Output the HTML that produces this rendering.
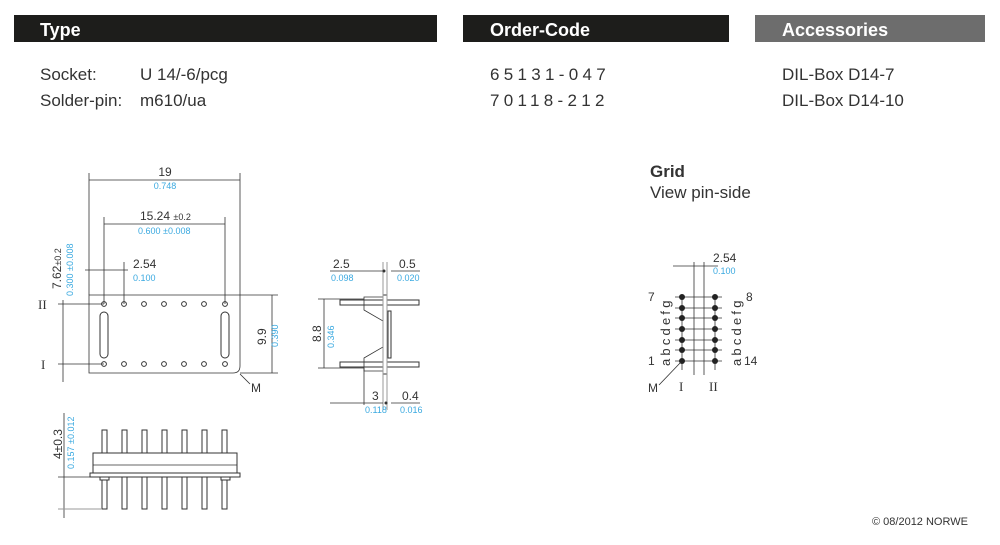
<!DOCTYPE html>
<html><head><meta charset="utf-8"><style>
html,body{margin:0;padding:0;background:#fff;}
svg{display:block;font-family:"Liberation Sans",sans-serif;}
.k{fill:#333;font-size:12px}
.b{fill:#3aa9e0;font-size:9px}
.l{stroke:#333;stroke-width:0.8;fill:none}
.g{stroke:#999;stroke-width:1;fill:none}
.p{stroke:#333;stroke-width:1;fill:#fff}
</style></head><body>
<svg width="1000" height="545" viewBox="0 0 1000 545">
<rect x="14" y="15" width="423" height="27" fill="#1d1d1b"/>
<rect x="463" y="15" width="266" height="27" fill="#1d1d1b"/>
<rect x="755" y="15" width="230" height="27" fill="#6d6d6d"/>
<g fill="#fff" font-weight="bold" font-size="18"><text x="40" y="36">Type</text><text x="490" y="36">Order-Code</text><text x="782" y="36">Accessories</text></g>
<g fill="#333" font-size="17">
<text x="40" y="80">Socket:</text><text x="140" y="80">U 14/-6/pcg</text>
<text x="40" y="106">Solder-pin:</text><text x="140" y="106">m610/ua</text>
<text x="490" y="80" letter-spacing="4.3">65131-047</text>
<text x="490" y="106" letter-spacing="4.3">70118-212</text>
<text x="782" y="80">DIL-Box D14-7</text>
<text x="782" y="106">DIL-Box D14-10</text>
<text x="650" y="177" font-weight="bold">Grid</text>
<text x="650" y="198">View pin-side</text>
</g>

<!-- top view -->
<path class="l" d="M89 295 H240 V366 Q240 373 233 373 H89 Z"/>
<g class="p">
<circle cx="104" cy="304" r="2.4"/><circle cx="124" cy="304" r="2.4"/><circle cx="144" cy="304" r="2.4"/><circle cx="164" cy="304" r="2.4"/><circle cx="184" cy="304" r="2.4"/><circle cx="204" cy="304" r="2.4"/><circle cx="225" cy="304" r="2.4"/>
<circle cx="104" cy="364" r="2.4"/><circle cx="124" cy="364" r="2.4"/><circle cx="144" cy="364" r="2.4"/><circle cx="164" cy="364" r="2.4"/><circle cx="184" cy="364" r="2.4"/><circle cx="204" cy="364" r="2.4"/><circle cx="225" cy="364" r="2.4"/>
<rect x="100" y="312" width="8" height="46" rx="4"/><rect x="221" y="312" width="8" height="46" rx="4"/>
</g>
<path class="l" d="M89 173V295M240 173V295M89 180H240M104 217V304M225 217V304M104 224H225M85 270H128M124 262V304M63 300V382M58 304H104M58 364H104M240 295H278M240 373H278M272 295V373M240 374L250 384"/>
<text class="k" x="165" y="176" text-anchor="middle">19</text>
<text class="b" x="165" y="189" text-anchor="middle">0.748</text>
<text class="k" x="140" y="220">15.24 <tspan font-size="9">±0.2</tspan></text>
<text class="b" x="138" y="234">0.600 ±0.008</text>
<text class="k" x="133" y="268">2.54</text>
<text class="b" x="133" y="281">0.100</text>
<text class="k" transform="translate(61 289) rotate(-90)">7.62<tspan font-size="9">±0.2</tspan></text>
<text class="b" transform="translate(73 296) rotate(-90)">0.300 ±0.008</text>
<text class="k" transform="translate(266 345) rotate(-90)">9.9</text>
<text class="b" transform="translate(278 347) rotate(-90)">0.390</text>
<text fill="#333" font-size="13" x="38" y="309" font-family="Liberation Serif">II</text>
<text fill="#333" font-size="13" x="41" y="369" font-family="Liberation Serif">I</text>
<text fill="#333" font-size="12" x="251" y="392">M</text>

<!-- side view -->
<path class="p" d="M340 300H419V305H340Z"/><path class="p" d="M340 362H419V367H340Z"/>
<path class="l" d="M364 297H383V321L364 310Z"/><path class="l" d="M364 371H383V347L364 358Z"/>
<rect x="383" y="295" width="4" height="79" class="p"/>
<rect x="388" y="311" width="3" height="47" class="p"/>
<path class="g" d="M383 262V410M387 262V410"/>
<path class="l" d="M324 299V368M318 299H364M318 368H364M330 271H383M330 403H383M391 403H420M364 368V405M391 271H420"/>
<circle cx="384" cy="271" r="1.5" fill="#333"/><circle cx="386" cy="403" r="1.5" fill="#333"/>
<text class="k" x="333" y="268">2.5</text><text class="b" x="331" y="281">0.098</text>
<text class="k" x="399" y="268">0.5</text><text class="b" x="397" y="281">0.020</text>
<text class="k" transform="translate(321 342) rotate(-90)">8.8</text>
<text class="b" transform="translate(334 348) rotate(-90)">0.346</text>
<text class="k" x="372" y="400">3</text><text class="b" x="365" y="413">0.118</text>
<text class="k" x="402" y="400">0.4</text><text class="b" x="400" y="413">0.016</text>

<!-- bottom view -->
<g class="p">
<rect x="102" y="430" width="5" height="79"/><rect x="122" y="430" width="5" height="79"/><rect x="142" y="430" width="5" height="79"/><rect x="162" y="430" width="5" height="79"/><rect x="182" y="430" width="5" height="79"/><rect x="202" y="430" width="5" height="79"/><rect x="222" y="430" width="5" height="79"/>
<rect x="93" y="453" width="144" height="20"/>
<rect x="90" y="473" width="150" height="4"/>
<rect x="100" y="477" width="9" height="3"/><rect x="221" y="477" width="9" height="3"/>
</g>
<path class="l" d="M93 465H237M64 413V518M58 477H90"/><path class="g" d="M58 509H102"/>
<text class="k" transform="translate(62 459) rotate(-90)">4±0.3</text>
<text class="b" transform="translate(74 469) rotate(-90)">0.157 ±0.012</text>

<!-- grid -->
<path class="l" d="M694 262V375M704 262V375M673 266H718M682 297V370M715 297V370"/>
<g class="l">
<path d="M675 297H722M675 308H722M675 318H722M675 329H722M675 340H722M675 350H722M675 361H722"/>
</g>
<g fill="#222">
<circle cx="682" cy="297" r="3"/><circle cx="682" cy="308" r="3"/><circle cx="682" cy="318" r="3"/><circle cx="682" cy="329" r="3"/><circle cx="682" cy="340" r="3"/><circle cx="682" cy="350" r="3"/><circle cx="682" cy="361" r="3"/>
<circle cx="715" cy="297" r="3"/><circle cx="715" cy="308" r="3"/><circle cx="715" cy="318" r="3"/><circle cx="715" cy="329" r="3"/><circle cx="715" cy="340" r="3"/><circle cx="715" cy="350" r="3"/><circle cx="715" cy="361" r="3"/>
</g>
<text class="k" x="713" y="262">2.54</text><text class="b" x="713" y="274">0.100</text>
<text fill="#333" font-size="13" transform="translate(670 366) rotate(-90)" letter-spacing="3.2">abcdefg</text>
<text fill="#333" font-size="13" transform="translate(741 366) rotate(-90)" letter-spacing="3.2">abcdefg</text>
<text class="k" x="648" y="301">7</text><text class="k" x="648" y="365">1</text>
<text class="k" x="746" y="301">8</text><text class="k" x="744" y="365">14</text>
<path class="l" d="M681 362L659 385"/>
<text class="k" x="648" y="392">M</text>
<text fill="#333" font-size="13" x="679" y="391" font-family="Liberation Serif">I</text>
<text fill="#333" font-size="13" x="709" y="391" font-family="Liberation Serif">II</text>

<text fill="#333" font-size="11" x="872" y="525">© 08/2012 NORWE</text>
</svg>
</body></html>
